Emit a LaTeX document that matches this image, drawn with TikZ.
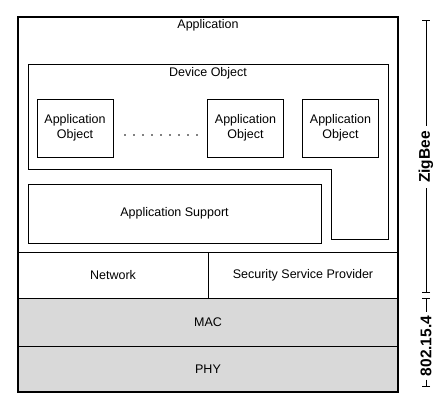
\documentclass[tikz,border=0pt]{standalone}
\usepackage{fontspec}
\setmainfont{Liberation Sans}
\usetikzlibrary{arrows.meta}

\begin{document}
\begin{tikzpicture}[x=1pt,y=-1pt,line width=0.9pt,
                    box/.style={draw,inner sep=0pt,align=center,
                                font=\fontsize{12.5}{14.5}\selectfont},
                    appobj/.style={box,minimum width=76pt,minimum height=58pt},
                    lower/.style={box,fill=gray!30,minimum width=380pt},
                    lbl/.style={inner sep=1pt,font=\fontsize{12.5}{14.5}\selectfont},
                    side/.style={rotate=90,inner sep=5pt,font=\bfseries\fontsize{15.5}{17}\selectfont}]

  \useasboundingbox (0,0) rectangle (445,404);

  % application part
  \node[box,minimum width=380pt,minimum height=235pt] (app) at (208,134.5) {};
  \node[lbl] (applbl) at (208,25) {Application};

  % device object (L-shaped)
  \draw (28,64) -- (388,64) -- (388,239) -- (331,239) -- (331,169) -- (28,169) -- cycle;
  \node[lbl] (devlbl) at (208,73) {Device Object};

  \node[appobj] (obj1) at (75,128)    {Application\\Object};
  \node[appobj] (obj2) at (245.5,128) {Application\\Object};
  \node[appobj] (obj3) at (340.5,128) {Application\\Object};
  \foreach \i in {0,...,8}
    \fill (125+9*\i,135) circle (0.8pt);

  \node[box,minimum width=293pt,minimum height=59pt] (aps) at (174.5,213.5) {Application Support};

  % network and security
  \node[box,minimum width=190pt,minimum height=46pt] (nwk) at (113,275) {Network};
  \node[box,minimum width=190pt,minimum height=46pt] (ssp) at (303,275) {Security Service Provider};

  % 802.15.4 layers
  \node[lower,minimum height=48pt] (mac) at (208,322) {MAC};
  \node[lower,minimum height=46pt] (phy) at (208,369) {PHY};

  % outer frame
  \draw[line width=1.5pt] (18,17) rectangle (398,392);

  % brackets
  \coordinate (zbtop) at (426,20);
  \coordinate (zbbot) at (426,293);
  \coordinate (ieeetop) at (426,298);
  \coordinate (ieeebot) at (426,387);
  \node[side] (zb)   at (426,157) {ZigBee};
  \node[side,inner sep=3pt] (ieee) at (426,346) {802.15.4};
  \draw[line width=0.8pt,{Bar[width=8pt]}-] (zbtop) -- (zb);
  \draw[line width=0.8pt,-{Bar[width=8pt]}] (zb) -- (zbbot);
  \draw[line width=0.8pt,{Bar[width=8pt]}-] (ieeetop) -- (ieee);
  \draw[line width=0.8pt,-{Bar[width=8pt]}] (ieee) -- (ieeebot);

\end{tikzpicture}
\end{document}
